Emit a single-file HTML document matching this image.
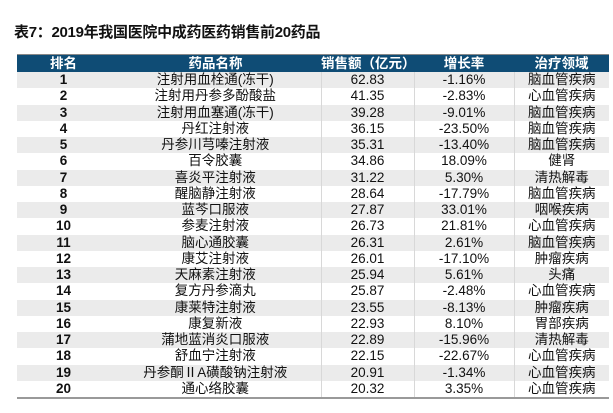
<!DOCTYPE html>
<html><head><meta charset="utf-8"><style>
body{margin:0;width:613px;height:413px;background:#fff;overflow:hidden;font-family:"Liberation Sans","Noto Sans CJK SC",sans-serif;}
.t{position:absolute;left:14px;top:21px;font-size:15px;font-weight:bold;color:#111;letter-spacing:-0.3px}
table{position:absolute;left:17px;top:54px;width:592px;border-collapse:collapse;table-layout:fixed;font-size:13.5px;color:#111}
td,th{padding:0;height:16.25px;line-height:16px;text-align:center;white-space:nowrap;overflow:visible}
th{background:#0f4c75;color:#fff;font-weight:bold;height:17px;border-top:1px solid #888}
tbody tr:nth-child(odd){background:#ebebeb}
tbody td{border-left:1px solid #d8d8d8}
tbody td:first-child,tbody td:nth-child(2){border-left:none}
td:first-child{font-weight:bold}
tbody tr:last-child td{border-bottom:2px solid #999}
</style></head><body>
<div class="t">表7：2019年我国医院中成药医药销售前20药品</div>
<table>
<colgroup><col style="width:93px"><col style="width:211px"><col style="width:93px"><col style="width:100px"><col style="width:95px"></colgroup>
<thead><tr><th>排名</th><th>药品名称</th><th>销售额（亿元）</th><th>增长率</th><th>治疗领域</th></tr></thead>
<tbody>
<tr><td>1</td><td>注射用血栓通(冻干)</td><td>62.83</td><td>-1.16%</td><td>脑血管疾病</td></tr>
<tr><td>2</td><td>注射用丹参多酚酸盐</td><td>41.35</td><td>-2.83%</td><td>心血管疾病</td></tr>
<tr><td>3</td><td>注射用血塞通(冻干)</td><td>39.28</td><td>-9.01%</td><td>脑血管疾病</td></tr>
<tr><td>4</td><td>丹红注射液</td><td>36.15</td><td>-23.50%</td><td>脑血管疾病</td></tr>
<tr><td>5</td><td>丹参川芎嗪注射液</td><td>35.31</td><td>-13.40%</td><td>脑血管疾病</td></tr>
<tr><td>6</td><td>百令胶囊</td><td>34.86</td><td>18.09%</td><td>健肾</td></tr>
<tr><td>7</td><td>喜炎平注射液</td><td>31.22</td><td>5.30%</td><td>清热解毒</td></tr>
<tr><td>8</td><td>醒脑静注射液</td><td>28.64</td><td>-17.79%</td><td>脑血管疾病</td></tr>
<tr><td>9</td><td>蓝芩口服液</td><td>27.87</td><td>33.01%</td><td>咽喉疾病</td></tr>
<tr><td>10</td><td>参麦注射液</td><td>26.73</td><td>21.81%</td><td>心血管疾病</td></tr>
<tr><td>11</td><td>脑心通胶囊</td><td>26.31</td><td>2.61%</td><td>脑血管疾病</td></tr>
<tr><td>12</td><td>康艾注射液</td><td>26.01</td><td>-17.10%</td><td>肿瘤疾病</td></tr>
<tr><td>13</td><td>天麻素注射液</td><td>25.94</td><td>5.61%</td><td>头痛</td></tr>
<tr><td>14</td><td>复方丹参滴丸</td><td>25.87</td><td>-2.48%</td><td>心血管疾病</td></tr>
<tr><td>15</td><td>康莱特注射液</td><td>23.55</td><td>-8.13%</td><td>肿瘤疾病</td></tr>
<tr><td>16</td><td>康复新液</td><td>22.93</td><td>8.10%</td><td>胃部疾病</td></tr>
<tr><td>17</td><td>蒲地蓝消炎口服液</td><td>22.89</td><td>-15.96%</td><td>清热解毒</td></tr>
<tr><td>18</td><td>舒血宁注射液</td><td>22.15</td><td>-22.67%</td><td>心血管疾病</td></tr>
<tr><td>19</td><td>丹参酮ⅡA磺酸钠注射液</td><td>20.91</td><td>-1.34%</td><td>心血管疾病</td></tr>
<tr><td>20</td><td>通心络胶囊</td><td>20.32</td><td>3.35%</td><td>心血管疾病</td></tr>
</tbody></table>
</body></html>
